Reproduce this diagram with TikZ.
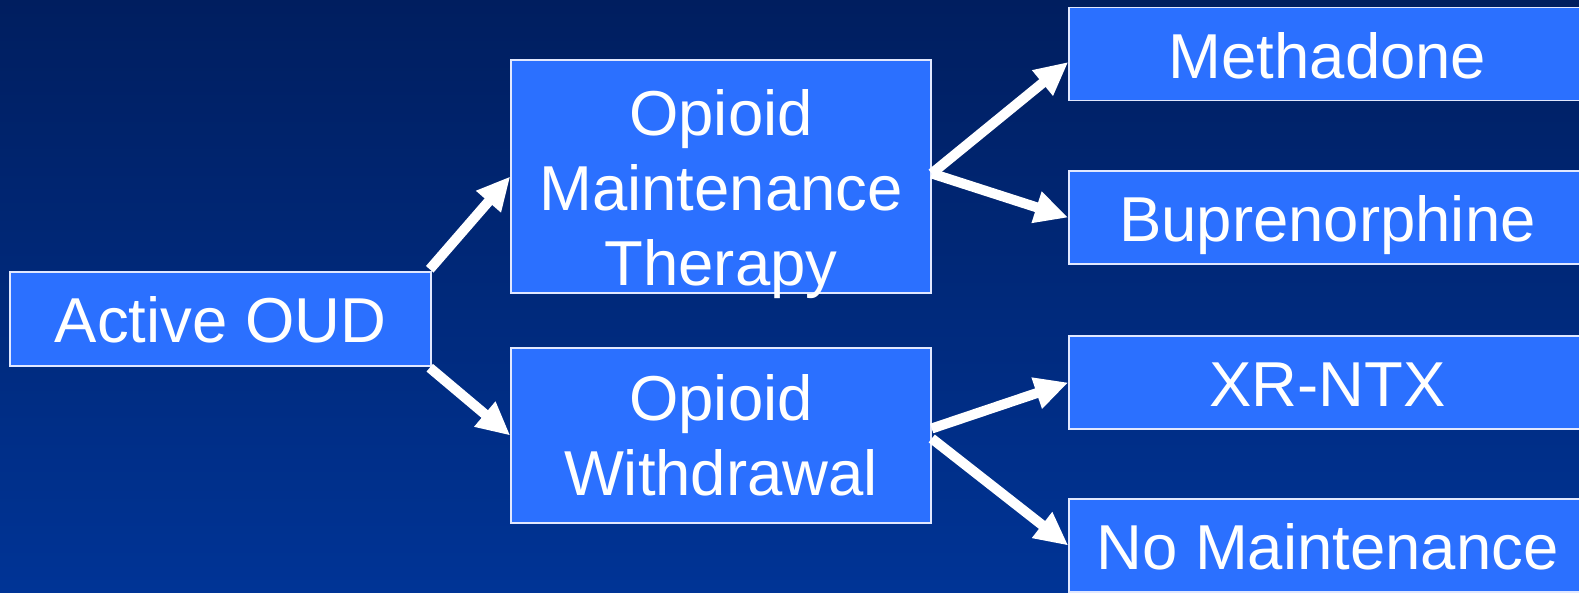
\documentclass[tikz,border=0pt]{standalone}
\usepackage{fontspec}
\setmainfont{Liberation Sans}
\usetikzlibrary{arrows.meta,calc}
\definecolor{bgtop}{RGB}{0,30,95}
\definecolor{bgbot}{RGB}{0,52,150}
\definecolor{boxfill}{RGB}{43,112,255}
\definecolor{boxline}{RGB}{225,232,255}
\begin{document}
\begin{tikzpicture}[x=0.75pt,y=-0.75pt,
  box/.style={draw=boxline,line width=1.1pt,fill=boxfill,text=white,inner sep=0pt,
    font=\fontsize{47.6}{56.25}\selectfont,align=center},
  single/.style={text height=36.5pt,text depth=0pt},
  rbox/.style={box,single,minimum width=387.75pt,minimum height=69.75pt},
  arr/.style={draw=white,line width=7.5pt,-{Triangle[length=25pt,width=23pt]}}]
\useasboundingbox (0,0) rectangle (1579,593);
\clip (0,0) rectangle (1579,593);
\shade[top color=bgtop,bottom color=bgbot] (0,0) rectangle (1579,593);

\node[box,single,minimum width=315.75pt,minimum height=70.5pt,text height=35pt] (oud) at (220.5,319) {Active OUD};
\node[box,minimum width=315pt,minimum height=174.75pt,text height=162.75pt,text depth=0pt] (omt) at (721,176.5) {Opioid\\Maintenance\\Therapy};
\node[box,minimum width=315pt,minimum height=131.25pt,text height=89.25pt,text depth=0pt] (ow) at (721,435.5) {Opioid\\Withdrawal};

\node[rbox] (meth) at (1327.5,54) {Methadone};
\node[rbox] (bup) at (1327.5,217.5) {Buprenorphine};
\node[rbox] (xr) at (1327.5,382.5) {XR-NTX};
\node[rbox] (nom) at (1327.5,545.5) {No Maintenance};

\draw[arr] ($(oud.north east)+(-2,-2)$) -- (omt.west);
\draw[arr] ($(oud.south east)+(-2,1)$) -- (ow.west);
\draw[arr] ($(omt.east)+(0,-3)$) -- ($(meth.west)+(0,8)$);
\draw[arr] ($(omt.east)+(0,-3)$) -- (bup.west);
\draw[arr] ($(ow.east)+(0,-7)$) -- (xr.west);
\draw[arr] ($(ow.east)+(0,3)$) -- (nom.west);
\end{tikzpicture}
\end{document}
